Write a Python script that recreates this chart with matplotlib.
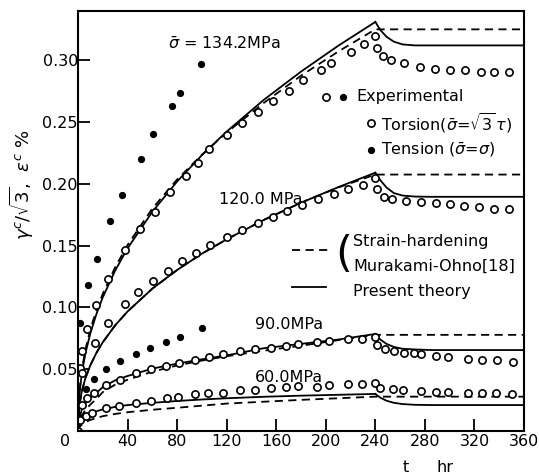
import matplotlib
matplotlib.use("Agg")
import matplotlib.pyplot as plt

# --- theory curves (t in hr, strain in %) ---
t_curve = [0, 1, 3, 6, 10, 15, 20, 30, 40, 60, 80, 100, 120, 150, 180, 210, 240]
t_after = [240, 244, 249, 255, 262, 272, 285, 360]

solid_134 = [0, 0.0281, 0.046, 0.0629, 0.0792, 0.095, 0.1082, 0.1298, 0.1478, 0.1774,
             0.2019, 0.2232, 0.2423, 0.268, 0.2908, 0.3117, 0.331]
solid_134_after = [0.331, 0.3245, 0.319, 0.315, 0.3128, 0.312, 0.312, 0.312]
dash_134 = [0, 0.031, 0.049, 0.066, 0.0825, 0.098, 0.111, 0.1325, 0.1505, 0.180,
            0.2035, 0.2235, 0.2415, 0.2655, 0.2875, 0.307, 0.325]

solid_120 = [0, 0.0198, 0.0318, 0.0428, 0.0533, 0.0635, 0.0718, 0.0855, 0.0967, 0.1152,
             0.1303, 0.1435, 0.1551, 0.1708, 0.1847, 0.1973, 0.209]
solid_120_after = [0.209, 0.203, 0.197, 0.1925, 0.1905, 0.1897, 0.1895, 0.1895]
dash_120 = [0, 0.0198, 0.0318, 0.0428, 0.0533, 0.0635, 0.0718, 0.0855, 0.0967, 0.1152,
            0.1303, 0.1435, 0.1551, 0.1708, 0.1847, 0.197, 0.2075]

solid_90 = [0, 0.010, 0.017, 0.0225, 0.027, 0.031, 0.0355, 0.041, 0.0445, 0.0505,
            0.0545, 0.058, 0.0612, 0.067, 0.0705, 0.074, 0.0785]
solid_90_after = [0.0785, 0.074, 0.0705, 0.068, 0.0665, 0.066, 0.0655, 0.0655]
dash_90 = [0, 0.007, 0.0125, 0.017, 0.0215, 0.026, 0.0315, 0.0375, 0.0415, 0.048,
           0.053, 0.057, 0.0605, 0.065, 0.069, 0.0735, 0.0778]

solid_60 = [0, 0.005, 0.009, 0.0118, 0.014, 0.016, 0.0175, 0.0195, 0.021, 0.0228,
            0.0243, 0.0255, 0.0265, 0.0277, 0.0286, 0.0293, 0.030]
solid_60_after = [0.030, 0.027, 0.0245, 0.0228, 0.0218, 0.0212, 0.021, 0.021]
dash_60 = [0, 0.003, 0.005, 0.0072, 0.009, 0.0105, 0.012, 0.0138, 0.0152, 0.0172,
           0.0188, 0.0205, 0.0222, 0.0237, 0.0252, 0.0265, 0.0278]

# --- experimental, torsion (open) ---
tor134_t = [0, 1.6, 3.5, 7.6, 14.6, 24, 37.6, 49.8, 62.4, 74.2, 87, 97, 106, 120, 132.5, 145,
            157.5, 170, 182, 196, 204, 220, 230.5, 240, 241, 246, 253, 263, 276, 288, 300,
            312, 325, 336, 348]
tor134_v = [0, 0.0512, 0.0647, 0.0823, 0.1019, 0.1227, 0.1468, 0.1634, 0.1769, 0.1934,
            0.2066, 0.2171, 0.2282, 0.2398, 0.2494, 0.2581, 0.267, 0.2751, 0.2837, 0.2923,
            0.298, 0.3064, 0.3134, 0.3196, 0.3096, 0.3034, 0.300, 0.2975, 0.2947, 0.2926,
            0.2921, 0.2921, 0.2907, 0.2907, 0.2907]

tor120_t = [3.3, 13.5, 24.3, 37.8, 48.6, 60.8, 72.5, 84, 95.5, 106.5, 120, 132, 145, 157,
            169, 181, 193.5, 206.5, 218, 230, 240, 241, 247, 253.5, 264.5, 276.5, 288.6,
            300.6, 311.4, 323.5, 335.6, 347.6]
tor120_v = [0.047, 0.0714, 0.0871, 0.1028, 0.1127, 0.1216, 0.1297, 0.1378, 0.1443, 0.1505,
            0.157, 0.163, 0.168, 0.1734, 0.178, 0.183, 0.1875, 0.192, 0.196, 0.199, 0.2044,
            0.1955, 0.189, 0.1875, 0.1863, 0.1855, 0.1847, 0.1834, 0.182, 0.1815, 0.180, 0.180]

tor90_t = [3, 7, 13.3, 22.8, 33.6, 47.2, 59.3, 71.3, 81.9, 94.3, 106, 116.8, 131, 143, 155.5,
           167.7, 177.8, 192.7, 202.7, 217.6, 229, 240, 241, 248, 255, 263, 271, 277, 289,
           299, 315, 326, 338, 351]
tor90_v = [0.021, 0.0265, 0.031, 0.0372, 0.0413, 0.0467, 0.0502, 0.0528, 0.0548, 0.0574,
           0.0601, 0.0623, 0.0647, 0.0661, 0.0674, 0.069, 0.0704, 0.072, 0.0731, 0.0744,
           0.0747, 0.0758, 0.0696, 0.0661, 0.065, 0.0634, 0.0628, 0.0623, 0.0607, 0.0596,
           0.058, 0.0574, 0.0574, 0.056]

tor60_t = [1.6, 6.3, 11.6, 22.8, 32.8, 47.2, 59.3, 71.8, 80.7, 94.3, 105, 116.8, 131, 143,
           155.5, 167.7, 177.8, 192.7, 202.7, 217.6, 229, 240, 244, 254, 262, 277, 289, 299,
           315, 326, 337, 350]
tor60_v = [0.0089, 0.0121, 0.0148, 0.0184, 0.0202, 0.0224, 0.0245, 0.027, 0.0278, 0.030,
           0.0305, 0.031, 0.0332, 0.0332, 0.0345, 0.0354, 0.0364, 0.0358, 0.0372, 0.0378,
           0.0378, 0.0386, 0.0345, 0.0337, 0.0332, 0.0326, 0.0318, 0.0318, 0.031, 0.031,
           0.0305, 0.030]

# --- experimental, tension (filled) ---
ten_hi_t = [1.5, 8.4, 15.2, 26, 35.2, 51, 60.2, 75.9, 82.4, 99.2]
ten_hi_v = [0.087, 0.1185, 0.139, 0.170, 0.191, 0.2198, 0.2403, 0.263, 0.2732, 0.2967]
ten_lo_t = [6.3, 12.8, 23, 33.9, 47.2, 58.3, 70.7, 82.4, 99.8]
ten_lo_v = [0.034, 0.0421, 0.0502, 0.0569, 0.0625, 0.0669, 0.0718, 0.0763, 0.0836]

x_ticks = [40, 80, 120, 160, 200, 240, 280, 320, 360]
y_ticks = [0.05, 0.10, 0.15, 0.20, 0.25, 0.30]

plt.rcParams['font.family'] = 'DejaVu Sans'
plt.rcParams['mathtext.fontset'] = 'dejavusans'

fig = plt.figure(figsize=(5.39, 4.74), dpi=100)
ax = fig.add_axes([0.1447, 0.0907, 0.8275, 0.8865])

lw = 1.3
for s, sa, d in [(solid_134, solid_134_after, dash_134),
                 (solid_120, solid_120_after, dash_120),
                 (solid_90, solid_90_after, dash_90),
                 (solid_60, solid_60_after, dash_60)]:
    ax.plot(t_curve, s, color='black', lw=lw)
    ax.plot(t_after, sa, color='black', lw=lw)
    ax.plot(t_curve + [360], d + [d[-1]], color='black', lw=lw, ls=(0, (4.5, 3)))

for tt, vv in [(tor134_t, tor134_v), (tor120_t, tor120_v), (tor90_t, tor90_v), (tor60_t, tor60_v)]:
    ax.plot(tt, vv, 'o', ms=5.2, mfc='white', mec='black', mew=1.2, ls='none')

for tt, vv in [(ten_hi_t, ten_hi_v), (ten_lo_t, ten_lo_v)]:
    ax.plot(tt, vv, 'o', ms=4.2, color='black', ls='none')

ax.set_xlim(0, 360)
ax.set_ylim(0, 0.34)
ax.set_xticks(x_ticks)
ax.set_xticklabels([str(v) for v in x_ticks])
ax.set_yticks(y_ticks)
ax.set_yticklabels(['%.2f' % v for v in y_ticks])
ax.tick_params(direction='in', length=8.5, width=1.3, labelsize=11.5, pad=2)
ax.tick_params(axis='y', pad=0)
for sp in ax.spines.values():
    sp.set_linewidth(1.5)

fs = 11.5
ax.text(72.5, 0.313, r'$\bar{\sigma}$ = 134.2MPa', fontsize=fs, va='center')
ax.text(114, 0.187, '120.0 MPa', fontsize=fs, va='center')
ax.text(142.5, 0.0858, '90.0MPa', fontsize=fs, va='center')
ax.text(142.5, 0.0437, '60.0MPa', fontsize=fs, va='center')

# legend block
ax.plot([200.5], [0.2705], 'o', ms=5.2, mfc='white', mec='black', mew=1.2)
ax.plot([213.6], [0.2705], 'o', ms=4.2, color='black')
ax.text(224.4, 0.2705, 'Experimental', fontsize=fs, va='center')
ax.plot([236.5], [0.249], 'o', ms=5.2, mfc='white', mec='black', mew=1.2)
ax.text(244.5, 0.249, r'Torsion($\bar{\sigma}$=$\sqrt{3}\,\tau$)', fontsize=fs, va='center')
ax.plot([236.5], [0.2273], 'o', ms=4.2, color='black')
ax.text(244.5, 0.2273, r'Tension ($\bar{\sigma}$=$\sigma$)', fontsize=fs, va='center')

ax.plot([173, 203], [0.1464, 0.1464], color='black', lw=lw, ls=(0, (4.5, 3)))
ax.plot([173, 200.5], [0.1163, 0.1163], color='black', lw=lw)
ax.text(221, 0.1425, '(', fontsize=31, ha='right', va='center')
ax.text(222, 0.1532, 'Strain-hardening', fontsize=fs, va='center')
ax.text(222, 0.1335, 'Murakami-Ohno[18]', fontsize=fs, va='center')
ax.text(222, 0.1127, 'Present theory', fontsize=fs, va='center')

fig.text(65 / 539, 1 - 442 / 474, '0', fontsize=fs, ha='center', va='center')
fig.text(406 / 539, 1 - 467 / 474, 't', fontsize=fs, ha='center', va='center')
fig.text(445 / 539, 1 - 467 / 474, 'hr', fontsize=fs, ha='center', va='center')
fig.text(22 / 539, 1 - 185 / 474, r'$\gamma^c/\sqrt{3}$,  $\varepsilon^c$ %',
         fontsize=13, rotation=90, ha='center', va='center')

fig.savefig('out.png', dpi=100)
